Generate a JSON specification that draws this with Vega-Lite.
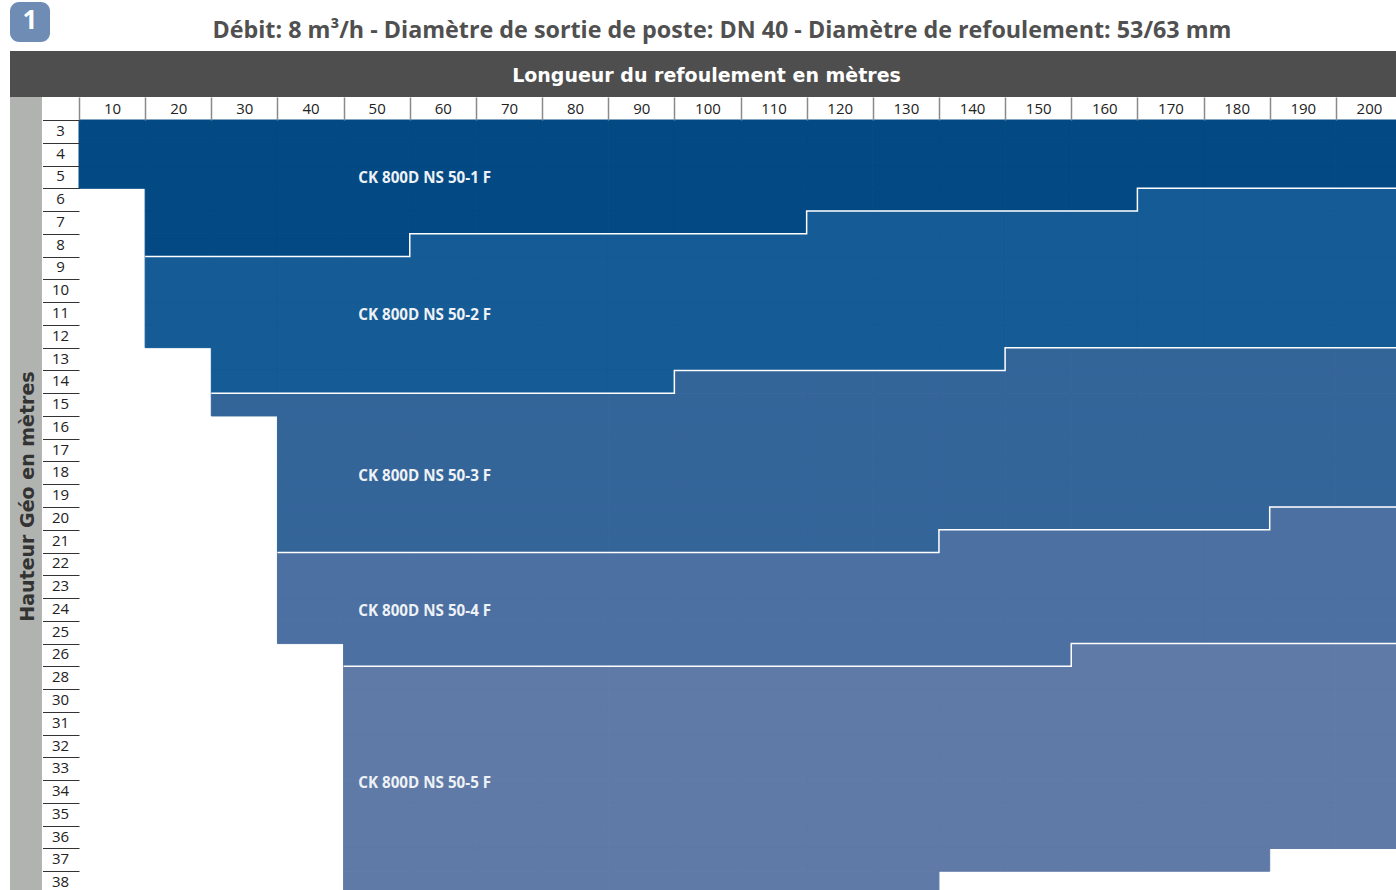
{"$schema":"https://vega.github.io/schema/vega-lite/v6.json","width":1317,"height":770,"autosize":"none","padding":{"left":79,"top":120,"right":0,"bottom":0},"background":"white","view":{"stroke":null},
"title":{"text":"Débit: 8 m³/h - Diamètre de sortie de poste: DN 40 - Diamètre de refoulement: 53/63 mm","font":"Open Sans","fontSize":23.3,"fontWeight":"bold","color":"#505050","anchor":"start","frame":"group","dx":133.5,"dy":52,"offset":0,"baseline":"middle"},
"datasets":{"cells":[
{"l":10,"h":3,"m":1},{"l":10,"h":4,"m":1},{"l":10,"h":5,"m":1},
{"l":20,"h":3,"m":1},{"l":20,"h":4,"m":1},{"l":20,"h":5,"m":1},{"l":20,"h":6,"m":1},{"l":20,"h":7,"m":1},{"l":20,"h":8,"m":1},{"l":20,"h":9,"m":2},{"l":20,"h":10,"m":2},{"l":20,"h":11,"m":2},{"l":20,"h":12,"m":2},
{"l":30,"h":3,"m":1},{"l":30,"h":4,"m":1},{"l":30,"h":5,"m":1},{"l":30,"h":6,"m":1},{"l":30,"h":7,"m":1},{"l":30,"h":8,"m":1},{"l":30,"h":9,"m":2},{"l":30,"h":10,"m":2},{"l":30,"h":11,"m":2},{"l":30,"h":12,"m":2},{"l":30,"h":13,"m":2},{"l":30,"h":14,"m":2},{"l":30,"h":15,"m":3},
{"l":40,"h":3,"m":1},{"l":40,"h":4,"m":1},{"l":40,"h":5,"m":1},{"l":40,"h":6,"m":1},{"l":40,"h":7,"m":1},{"l":40,"h":8,"m":1},{"l":40,"h":9,"m":2},{"l":40,"h":10,"m":2},{"l":40,"h":11,"m":2},{"l":40,"h":12,"m":2},{"l":40,"h":13,"m":2},{"l":40,"h":14,"m":2},{"l":40,"h":15,"m":3},{"l":40,"h":16,"m":3},{"l":40,"h":17,"m":3},{"l":40,"h":18,"m":3},{"l":40,"h":19,"m":3},{"l":40,"h":20,"m":3},{"l":40,"h":21,"m":3},{"l":40,"h":22,"m":4},{"l":40,"h":23,"m":4},{"l":40,"h":24,"m":4},{"l":40,"h":25,"m":4},
{"l":50,"h":3,"m":1},{"l":50,"h":4,"m":1},{"l":50,"h":5,"m":1},{"l":50,"h":6,"m":1},{"l":50,"h":7,"m":1},{"l":50,"h":8,"m":1},{"l":50,"h":9,"m":2},{"l":50,"h":10,"m":2},{"l":50,"h":11,"m":2},{"l":50,"h":12,"m":2},{"l":50,"h":13,"m":2},{"l":50,"h":14,"m":2},{"l":50,"h":15,"m":3},{"l":50,"h":16,"m":3},{"l":50,"h":17,"m":3},{"l":50,"h":18,"m":3},{"l":50,"h":19,"m":3},{"l":50,"h":20,"m":3},{"l":50,"h":21,"m":3},{"l":50,"h":22,"m":4},{"l":50,"h":23,"m":4},{"l":50,"h":24,"m":4},{"l":50,"h":25,"m":4},{"l":50,"h":26,"m":4},{"l":50,"h":28,"m":5},{"l":50,"h":30,"m":5},{"l":50,"h":31,"m":5},{"l":50,"h":32,"m":5},{"l":50,"h":33,"m":5},{"l":50,"h":34,"m":5},{"l":50,"h":35,"m":5},{"l":50,"h":36,"m":5},{"l":50,"h":37,"m":5},{"l":50,"h":38,"m":5},
{"l":60,"h":3,"m":1},{"l":60,"h":4,"m":1},{"l":60,"h":5,"m":1},{"l":60,"h":6,"m":1},{"l":60,"h":7,"m":1},{"l":60,"h":8,"m":2},{"l":60,"h":9,"m":2},{"l":60,"h":10,"m":2},{"l":60,"h":11,"m":2},{"l":60,"h":12,"m":2},{"l":60,"h":13,"m":2},{"l":60,"h":14,"m":2},{"l":60,"h":15,"m":3},{"l":60,"h":16,"m":3},{"l":60,"h":17,"m":3},{"l":60,"h":18,"m":3},{"l":60,"h":19,"m":3},{"l":60,"h":20,"m":3},{"l":60,"h":21,"m":3},{"l":60,"h":22,"m":4},{"l":60,"h":23,"m":4},{"l":60,"h":24,"m":4},{"l":60,"h":25,"m":4},{"l":60,"h":26,"m":4},{"l":60,"h":28,"m":5},{"l":60,"h":30,"m":5},{"l":60,"h":31,"m":5},{"l":60,"h":32,"m":5},{"l":60,"h":33,"m":5},{"l":60,"h":34,"m":5},{"l":60,"h":35,"m":5},{"l":60,"h":36,"m":5},{"l":60,"h":37,"m":5},{"l":60,"h":38,"m":5},
{"l":70,"h":3,"m":1},{"l":70,"h":4,"m":1},{"l":70,"h":5,"m":1},{"l":70,"h":6,"m":1},{"l":70,"h":7,"m":1},{"l":70,"h":8,"m":2},{"l":70,"h":9,"m":2},{"l":70,"h":10,"m":2},{"l":70,"h":11,"m":2},{"l":70,"h":12,"m":2},{"l":70,"h":13,"m":2},{"l":70,"h":14,"m":2},{"l":70,"h":15,"m":3},{"l":70,"h":16,"m":3},{"l":70,"h":17,"m":3},{"l":70,"h":18,"m":3},{"l":70,"h":19,"m":3},{"l":70,"h":20,"m":3},{"l":70,"h":21,"m":3},{"l":70,"h":22,"m":4},{"l":70,"h":23,"m":4},{"l":70,"h":24,"m":4},{"l":70,"h":25,"m":4},{"l":70,"h":26,"m":4},{"l":70,"h":28,"m":5},{"l":70,"h":30,"m":5},{"l":70,"h":31,"m":5},{"l":70,"h":32,"m":5},{"l":70,"h":33,"m":5},{"l":70,"h":34,"m":5},{"l":70,"h":35,"m":5},{"l":70,"h":36,"m":5},{"l":70,"h":37,"m":5},{"l":70,"h":38,"m":5},
{"l":80,"h":3,"m":1},{"l":80,"h":4,"m":1},{"l":80,"h":5,"m":1},{"l":80,"h":6,"m":1},{"l":80,"h":7,"m":1},{"l":80,"h":8,"m":2},{"l":80,"h":9,"m":2},{"l":80,"h":10,"m":2},{"l":80,"h":11,"m":2},{"l":80,"h":12,"m":2},{"l":80,"h":13,"m":2},{"l":80,"h":14,"m":2},{"l":80,"h":15,"m":3},{"l":80,"h":16,"m":3},{"l":80,"h":17,"m":3},{"l":80,"h":18,"m":3},{"l":80,"h":19,"m":3},{"l":80,"h":20,"m":3},{"l":80,"h":21,"m":3},{"l":80,"h":22,"m":4},{"l":80,"h":23,"m":4},{"l":80,"h":24,"m":4},{"l":80,"h":25,"m":4},{"l":80,"h":26,"m":4},{"l":80,"h":28,"m":5},{"l":80,"h":30,"m":5},{"l":80,"h":31,"m":5},{"l":80,"h":32,"m":5},{"l":80,"h":33,"m":5},{"l":80,"h":34,"m":5},{"l":80,"h":35,"m":5},{"l":80,"h":36,"m":5},{"l":80,"h":37,"m":5},{"l":80,"h":38,"m":5},
{"l":90,"h":3,"m":1},{"l":90,"h":4,"m":1},{"l":90,"h":5,"m":1},{"l":90,"h":6,"m":1},{"l":90,"h":7,"m":1},{"l":90,"h":8,"m":2},{"l":90,"h":9,"m":2},{"l":90,"h":10,"m":2},{"l":90,"h":11,"m":2},{"l":90,"h":12,"m":2},{"l":90,"h":13,"m":2},{"l":90,"h":14,"m":2},{"l":90,"h":15,"m":3},{"l":90,"h":16,"m":3},{"l":90,"h":17,"m":3},{"l":90,"h":18,"m":3},{"l":90,"h":19,"m":3},{"l":90,"h":20,"m":3},{"l":90,"h":21,"m":3},{"l":90,"h":22,"m":4},{"l":90,"h":23,"m":4},{"l":90,"h":24,"m":4},{"l":90,"h":25,"m":4},{"l":90,"h":26,"m":4},{"l":90,"h":28,"m":5},{"l":90,"h":30,"m":5},{"l":90,"h":31,"m":5},{"l":90,"h":32,"m":5},{"l":90,"h":33,"m":5},{"l":90,"h":34,"m":5},{"l":90,"h":35,"m":5},{"l":90,"h":36,"m":5},{"l":90,"h":37,"m":5},{"l":90,"h":38,"m":5},
{"l":100,"h":3,"m":1},{"l":100,"h":4,"m":1},{"l":100,"h":5,"m":1},{"l":100,"h":6,"m":1},{"l":100,"h":7,"m":1},{"l":100,"h":8,"m":2},{"l":100,"h":9,"m":2},{"l":100,"h":10,"m":2},{"l":100,"h":11,"m":2},{"l":100,"h":12,"m":2},{"l":100,"h":13,"m":2},{"l":100,"h":14,"m":3},{"l":100,"h":15,"m":3},{"l":100,"h":16,"m":3},{"l":100,"h":17,"m":3},{"l":100,"h":18,"m":3},{"l":100,"h":19,"m":3},{"l":100,"h":20,"m":3},{"l":100,"h":21,"m":3},{"l":100,"h":22,"m":4},{"l":100,"h":23,"m":4},{"l":100,"h":24,"m":4},{"l":100,"h":25,"m":4},{"l":100,"h":26,"m":4},{"l":100,"h":28,"m":5},{"l":100,"h":30,"m":5},{"l":100,"h":31,"m":5},{"l":100,"h":32,"m":5},{"l":100,"h":33,"m":5},{"l":100,"h":34,"m":5},{"l":100,"h":35,"m":5},{"l":100,"h":36,"m":5},{"l":100,"h":37,"m":5},{"l":100,"h":38,"m":5},
{"l":110,"h":3,"m":1},{"l":110,"h":4,"m":1},{"l":110,"h":5,"m":1},{"l":110,"h":6,"m":1},{"l":110,"h":7,"m":1},{"l":110,"h":8,"m":2},{"l":110,"h":9,"m":2},{"l":110,"h":10,"m":2},{"l":110,"h":11,"m":2},{"l":110,"h":12,"m":2},{"l":110,"h":13,"m":2},{"l":110,"h":14,"m":3},{"l":110,"h":15,"m":3},{"l":110,"h":16,"m":3},{"l":110,"h":17,"m":3},{"l":110,"h":18,"m":3},{"l":110,"h":19,"m":3},{"l":110,"h":20,"m":3},{"l":110,"h":21,"m":3},{"l":110,"h":22,"m":4},{"l":110,"h":23,"m":4},{"l":110,"h":24,"m":4},{"l":110,"h":25,"m":4},{"l":110,"h":26,"m":4},{"l":110,"h":28,"m":5},{"l":110,"h":30,"m":5},{"l":110,"h":31,"m":5},{"l":110,"h":32,"m":5},{"l":110,"h":33,"m":5},{"l":110,"h":34,"m":5},{"l":110,"h":35,"m":5},{"l":110,"h":36,"m":5},{"l":110,"h":37,"m":5},{"l":110,"h":38,"m":5},
{"l":120,"h":3,"m":1},{"l":120,"h":4,"m":1},{"l":120,"h":5,"m":1},{"l":120,"h":6,"m":1},{"l":120,"h":7,"m":2},{"l":120,"h":8,"m":2},{"l":120,"h":9,"m":2},{"l":120,"h":10,"m":2},{"l":120,"h":11,"m":2},{"l":120,"h":12,"m":2},{"l":120,"h":13,"m":2},{"l":120,"h":14,"m":3},{"l":120,"h":15,"m":3},{"l":120,"h":16,"m":3},{"l":120,"h":17,"m":3},{"l":120,"h":18,"m":3},{"l":120,"h":19,"m":3},{"l":120,"h":20,"m":3},{"l":120,"h":21,"m":3},{"l":120,"h":22,"m":4},{"l":120,"h":23,"m":4},{"l":120,"h":24,"m":4},{"l":120,"h":25,"m":4},{"l":120,"h":26,"m":4},{"l":120,"h":28,"m":5},{"l":120,"h":30,"m":5},{"l":120,"h":31,"m":5},{"l":120,"h":32,"m":5},{"l":120,"h":33,"m":5},{"l":120,"h":34,"m":5},{"l":120,"h":35,"m":5},{"l":120,"h":36,"m":5},{"l":120,"h":37,"m":5},{"l":120,"h":38,"m":5},
{"l":130,"h":3,"m":1},{"l":130,"h":4,"m":1},{"l":130,"h":5,"m":1},{"l":130,"h":6,"m":1},{"l":130,"h":7,"m":2},{"l":130,"h":8,"m":2},{"l":130,"h":9,"m":2},{"l":130,"h":10,"m":2},{"l":130,"h":11,"m":2},{"l":130,"h":12,"m":2},{"l":130,"h":13,"m":2},{"l":130,"h":14,"m":3},{"l":130,"h":15,"m":3},{"l":130,"h":16,"m":3},{"l":130,"h":17,"m":3},{"l":130,"h":18,"m":3},{"l":130,"h":19,"m":3},{"l":130,"h":20,"m":3},{"l":130,"h":21,"m":3},{"l":130,"h":22,"m":4},{"l":130,"h":23,"m":4},{"l":130,"h":24,"m":4},{"l":130,"h":25,"m":4},{"l":130,"h":26,"m":4},{"l":130,"h":28,"m":5},{"l":130,"h":30,"m":5},{"l":130,"h":31,"m":5},{"l":130,"h":32,"m":5},{"l":130,"h":33,"m":5},{"l":130,"h":34,"m":5},{"l":130,"h":35,"m":5},{"l":130,"h":36,"m":5},{"l":130,"h":37,"m":5},{"l":130,"h":38,"m":5},
{"l":140,"h":3,"m":1},{"l":140,"h":4,"m":1},{"l":140,"h":5,"m":1},{"l":140,"h":6,"m":1},{"l":140,"h":7,"m":2},{"l":140,"h":8,"m":2},{"l":140,"h":9,"m":2},{"l":140,"h":10,"m":2},{"l":140,"h":11,"m":2},{"l":140,"h":12,"m":2},{"l":140,"h":13,"m":2},{"l":140,"h":14,"m":3},{"l":140,"h":15,"m":3},{"l":140,"h":16,"m":3},{"l":140,"h":17,"m":3},{"l":140,"h":18,"m":3},{"l":140,"h":19,"m":3},{"l":140,"h":20,"m":3},{"l":140,"h":21,"m":4},{"l":140,"h":22,"m":4},{"l":140,"h":23,"m":4},{"l":140,"h":24,"m":4},{"l":140,"h":25,"m":4},{"l":140,"h":26,"m":4},{"l":140,"h":28,"m":5},{"l":140,"h":30,"m":5},{"l":140,"h":31,"m":5},{"l":140,"h":32,"m":5},{"l":140,"h":33,"m":5},{"l":140,"h":34,"m":5},{"l":140,"h":35,"m":5},{"l":140,"h":36,"m":5},{"l":140,"h":37,"m":5},
{"l":150,"h":3,"m":1},{"l":150,"h":4,"m":1},{"l":150,"h":5,"m":1},{"l":150,"h":6,"m":1},{"l":150,"h":7,"m":2},{"l":150,"h":8,"m":2},{"l":150,"h":9,"m":2},{"l":150,"h":10,"m":2},{"l":150,"h":11,"m":2},{"l":150,"h":12,"m":2},{"l":150,"h":13,"m":3},{"l":150,"h":14,"m":3},{"l":150,"h":15,"m":3},{"l":150,"h":16,"m":3},{"l":150,"h":17,"m":3},{"l":150,"h":18,"m":3},{"l":150,"h":19,"m":3},{"l":150,"h":20,"m":3},{"l":150,"h":21,"m":4},{"l":150,"h":22,"m":4},{"l":150,"h":23,"m":4},{"l":150,"h":24,"m":4},{"l":150,"h":25,"m":4},{"l":150,"h":26,"m":4},{"l":150,"h":28,"m":5},{"l":150,"h":30,"m":5},{"l":150,"h":31,"m":5},{"l":150,"h":32,"m":5},{"l":150,"h":33,"m":5},{"l":150,"h":34,"m":5},{"l":150,"h":35,"m":5},{"l":150,"h":36,"m":5},{"l":150,"h":37,"m":5},
{"l":160,"h":3,"m":1},{"l":160,"h":4,"m":1},{"l":160,"h":5,"m":1},{"l":160,"h":6,"m":1},{"l":160,"h":7,"m":2},{"l":160,"h":8,"m":2},{"l":160,"h":9,"m":2},{"l":160,"h":10,"m":2},{"l":160,"h":11,"m":2},{"l":160,"h":12,"m":2},{"l":160,"h":13,"m":3},{"l":160,"h":14,"m":3},{"l":160,"h":15,"m":3},{"l":160,"h":16,"m":3},{"l":160,"h":17,"m":3},{"l":160,"h":18,"m":3},{"l":160,"h":19,"m":3},{"l":160,"h":20,"m":3},{"l":160,"h":21,"m":4},{"l":160,"h":22,"m":4},{"l":160,"h":23,"m":4},{"l":160,"h":24,"m":4},{"l":160,"h":25,"m":4},{"l":160,"h":26,"m":5},{"l":160,"h":28,"m":5},{"l":160,"h":30,"m":5},{"l":160,"h":31,"m":5},{"l":160,"h":32,"m":5},{"l":160,"h":33,"m":5},{"l":160,"h":34,"m":5},{"l":160,"h":35,"m":5},{"l":160,"h":36,"m":5},{"l":160,"h":37,"m":5},
{"l":170,"h":3,"m":1},{"l":170,"h":4,"m":1},{"l":170,"h":5,"m":1},{"l":170,"h":6,"m":2},{"l":170,"h":7,"m":2},{"l":170,"h":8,"m":2},{"l":170,"h":9,"m":2},{"l":170,"h":10,"m":2},{"l":170,"h":11,"m":2},{"l":170,"h":12,"m":2},{"l":170,"h":13,"m":3},{"l":170,"h":14,"m":3},{"l":170,"h":15,"m":3},{"l":170,"h":16,"m":3},{"l":170,"h":17,"m":3},{"l":170,"h":18,"m":3},{"l":170,"h":19,"m":3},{"l":170,"h":20,"m":3},{"l":170,"h":21,"m":4},{"l":170,"h":22,"m":4},{"l":170,"h":23,"m":4},{"l":170,"h":24,"m":4},{"l":170,"h":25,"m":4},{"l":170,"h":26,"m":5},{"l":170,"h":28,"m":5},{"l":170,"h":30,"m":5},{"l":170,"h":31,"m":5},{"l":170,"h":32,"m":5},{"l":170,"h":33,"m":5},{"l":170,"h":34,"m":5},{"l":170,"h":35,"m":5},{"l":170,"h":36,"m":5},{"l":170,"h":37,"m":5},
{"l":180,"h":3,"m":1},{"l":180,"h":4,"m":1},{"l":180,"h":5,"m":1},{"l":180,"h":6,"m":2},{"l":180,"h":7,"m":2},{"l":180,"h":8,"m":2},{"l":180,"h":9,"m":2},{"l":180,"h":10,"m":2},{"l":180,"h":11,"m":2},{"l":180,"h":12,"m":2},{"l":180,"h":13,"m":3},{"l":180,"h":14,"m":3},{"l":180,"h":15,"m":3},{"l":180,"h":16,"m":3},{"l":180,"h":17,"m":3},{"l":180,"h":18,"m":3},{"l":180,"h":19,"m":3},{"l":180,"h":20,"m":3},{"l":180,"h":21,"m":4},{"l":180,"h":22,"m":4},{"l":180,"h":23,"m":4},{"l":180,"h":24,"m":4},{"l":180,"h":25,"m":4},{"l":180,"h":26,"m":5},{"l":180,"h":28,"m":5},{"l":180,"h":30,"m":5},{"l":180,"h":31,"m":5},{"l":180,"h":32,"m":5},{"l":180,"h":33,"m":5},{"l":180,"h":34,"m":5},{"l":180,"h":35,"m":5},{"l":180,"h":36,"m":5},{"l":180,"h":37,"m":5},
{"l":190,"h":3,"m":1},{"l":190,"h":4,"m":1},{"l":190,"h":5,"m":1},{"l":190,"h":6,"m":2},{"l":190,"h":7,"m":2},{"l":190,"h":8,"m":2},{"l":190,"h":9,"m":2},{"l":190,"h":10,"m":2},{"l":190,"h":11,"m":2},{"l":190,"h":12,"m":2},{"l":190,"h":13,"m":3},{"l":190,"h":14,"m":3},{"l":190,"h":15,"m":3},{"l":190,"h":16,"m":3},{"l":190,"h":17,"m":3},{"l":190,"h":18,"m":3},{"l":190,"h":19,"m":3},{"l":190,"h":20,"m":4},{"l":190,"h":21,"m":4},{"l":190,"h":22,"m":4},{"l":190,"h":23,"m":4},{"l":190,"h":24,"m":4},{"l":190,"h":25,"m":4},{"l":190,"h":26,"m":5},{"l":190,"h":28,"m":5},{"l":190,"h":30,"m":5},{"l":190,"h":31,"m":5},{"l":190,"h":32,"m":5},{"l":190,"h":33,"m":5},{"l":190,"h":34,"m":5},{"l":190,"h":35,"m":5},{"l":190,"h":36,"m":5},
{"l":200,"h":3,"m":1},{"l":200,"h":4,"m":1},{"l":200,"h":5,"m":1},{"l":200,"h":6,"m":2},{"l":200,"h":7,"m":2},{"l":200,"h":8,"m":2},{"l":200,"h":9,"m":2},{"l":200,"h":10,"m":2},{"l":200,"h":11,"m":2},{"l":200,"h":12,"m":2},{"l":200,"h":13,"m":3},{"l":200,"h":14,"m":3},{"l":200,"h":15,"m":3},{"l":200,"h":16,"m":3},{"l":200,"h":17,"m":3},{"l":200,"h":18,"m":3},{"l":200,"h":19,"m":3},{"l":200,"h":20,"m":4},{"l":200,"h":21,"m":4},{"l":200,"h":22,"m":4},{"l":200,"h":23,"m":4},{"l":200,"h":24,"m":4},{"l":200,"h":25,"m":4},{"l":200,"h":26,"m":5},{"l":200,"h":28,"m":5},{"l":200,"h":30,"m":5},{"l":200,"h":31,"m":5},{"l":200,"h":32,"m":5},{"l":200,"h":33,"m":5},{"l":200,"h":34,"m":5},{"l":200,"h":35,"m":5},{"l":200,"h":36,"m":5}
],
"steps":[
{"b":"1/2","o":1,"len":15,"row":6},{"b":"1/2","o":2,"len":55,"row":6},{"b":"1/2","o":3,"len":55,"row":5},{"b":"1/2","o":4,"len":115,"row":5},{"b":"1/2","o":5,"len":115,"row":4},{"b":"1/2","o":6,"len":165,"row":4},{"b":"1/2","o":7,"len":165,"row":3},{"b":"1/2","o":8,"len":205,"row":3},
{"b":"2/3","o":1,"len":25,"row":12},{"b":"2/3","o":2,"len":95,"row":12},{"b":"2/3","o":3,"len":95,"row":11},{"b":"2/3","o":4,"len":145,"row":11},{"b":"2/3","o":5,"len":145,"row":10},{"b":"2/3","o":6,"len":205,"row":10},
{"b":"3/4","o":1,"len":35,"row":19},{"b":"3/4","o":2,"len":135,"row":19},{"b":"3/4","o":3,"len":135,"row":18},{"b":"3/4","o":4,"len":185,"row":18},{"b":"3/4","o":5,"len":185,"row":17},{"b":"3/4","o":6,"len":205,"row":17},
{"b":"4/5","o":1,"len":45,"row":24},{"b":"4/5","o":2,"len":155,"row":24},{"b":"4/5","o":3,"len":155,"row":23},{"b":"4/5","o":4,"len":205,"row":23}
],
"labels":[
{"model":"CK 800D NS 50-1 F","len":47.22,"row":2.54},{"model":"CK 800D NS 50-2 F","len":47.22,"row":8.56},{"model":"CK 800D NS 50-3 F","len":47.22,"row":15.64},{"model":"CK 800D NS 50-4 F","len":47.22,"row":21.57},{"model":"CK 800D NS 50-5 F","len":47.22,"row":29.13}
]},
"layer":[
{"data":{"values":[{"part":"frame"}]},"layer":[
{"mark":{"type":"rect","fill":"#4e4e4e"},"encoding":{"x":{"datum":-5.43,"type":"quantitative","scale":{"domain":[5,205],"range":[0,1323]},"axis":null},"x2":{"datum":205},"y":{"datum":-3.03,"type":"quantitative","scale":{"domain":[0,34],"range":[0,774]},"axis":null},"y2":{"datum":-1.01}}},
{"mark":{"type":"rect","fill":"#b1b3b0"},"encoding":{"x":{"datum":-5.43,"type":"quantitative","scale":{"domain":[5,205],"range":[0,1323]},"axis":null},"x2":{"datum":-0.6},"y":{"datum":-1.01,"type":"quantitative","scale":{"domain":[0,34],"range":[0,774]},"axis":null},"y2":{"datum":34}}},
{"mark":{"type":"rect","fill":"#6f8cb4","cornerRadius":9},"encoding":{"x":{"datum":-5.43,"type":"quantitative","scale":{"domain":[5,205],"range":[0,1323]},"axis":null},"x2":{"datum":0.62},"y":{"datum":-5.18,"type":"quantitative","scale":{"domain":[0,34],"range":[0,774]},"axis":null},"y2":{"datum":-3.43}}},
{"mark":{"type":"text","text":"1","font":"Open Sans","fontWeight":"bold","fontSize":26,"color":"white","align":"center","baseline":"middle"},"encoding":{"x":{"datum":-2.41,"type":"quantitative","scale":{"domain":[5,205],"range":[0,1323]},"axis":null},"y":{"datum":-4.33,"type":"quantitative","scale":{"domain":[0,34],"range":[0,774]},"axis":null}}}
]},
{"data":{"name":"cells"},"mark":{"type":"rect","strokeWidth":1},"encoding":{
"x":{"field":"l","type":"ordinal","scale":{"domain":[10,20,30,40,50,60,70,80,90,100,110,120,130,140,150,160,170,180,190,200],"range":[0,1323],"paddingInner":0,"paddingOuter":0},"axis":{"orient":"top","title":"Longueur du refoulement en mètres","titleFont":"DejaVu Sans","titleFontSize":19,"titleFontWeight":"bold","titleColor":"white","titleX":627,"titleY":-45,"titleAlign":"center","titleBaseline":"middle","labelAngle":0,"labelFont":"Open Sans","labelFontSize":15,"labelColor":"#222222","labelPadding":-19.5,"tickSize":23,"tickColor":"#8a8a8a","tickWidth":1.5,"tickBand":"extent","tickExtra":false,"domain":false,"grid":false,"zindex":1}},
"y":{"field":"h","type":"ordinal","scale":{"domain":[3,4,5,6,7,8,9,10,11,12,13,14,15,16,17,18,19,20,21,22,23,24,25,26,28,30,31,32,33,34,35,36,37,38],"range":[0,774],"paddingInner":0,"paddingOuter":0},"axis":{"orient":"left","title":"Hauteur Géo en mètres","titleFont":"DejaVu Sans","titleFontSize":19,"titleFontWeight":"bold","titleColor":"#333333","titleX":-52,"titleY":376,"titleAngle":270,"titleAlign":"center","titleBaseline":"middle","labelFont":"Open Sans","labelFontSize":15,"labelColor":"#222222","labelAlign":"center","labelOffset":-1,"labelPadding":-17.5,"tickSize":36.5,"tickColor":"#333333","tickWidth":1,"tickBand":"extent","tickExtra":false,"domain":false,"grid":false,"zindex":1}},
"fill":{"field":"m","type":"nominal","scale":{"domain":[1,2,3,4,5],"range":["#034a84","#155b95","#346599","#4c70a1","#5f7aa6"]},"legend":null},
"stroke":{"field":"m","type":"nominal","scale":{"domain":[1,2,3,4,5],"range":["#034a84","#155b95","#346599","#4c70a1","#5f7aa6"]},"legend":null}}},
{"layer":[
{"data":{"name":"steps"},"mark":{"type":"line","color":"#ffffff","strokeWidth":1.5,"interpolate":"linear"},"encoding":{"x":{"field":"len","type":"quantitative","scale":{"domain":[5,205],"range":[0,1323]},"axis":null},"y":{"field":"row","type":"quantitative","scale":{"domain":[0,34],"range":[0,774]},"axis":null},"detail":{"field":"b"},"order":{"field":"o"}}},
{"data":{"name":"labels"},"mark":{"type":"text","font":"Open Sans","fontWeight":"bold","fontSize":15.2,"color":"#eef2f6","align":"left","baseline":"middle"},"encoding":{"x":{"field":"len","type":"quantitative","scale":{"domain":[5,205],"range":[0,1323]},"axis":null},"y":{"field":"row","type":"quantitative","scale":{"domain":[0,34],"range":[0,774]},"axis":null},"text":{"field":"model"}}}
]}
],"resolve":{"scale":{"x":"independent","y":"independent"}}}
